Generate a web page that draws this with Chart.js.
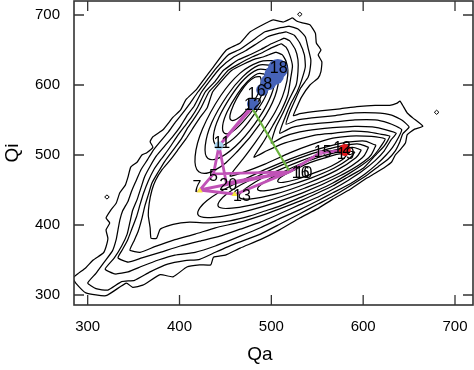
<!DOCTYPE html>
<html>
<head>
<meta charset="utf-8">
<script src="https://cdn.jsdelivr.net/npm/chart.js"></script>
<style>
  html, body { margin: 0; padding: 0; background: #fff; }
</style>
</head>
<body>
<canvas id="qaqi" width="474" height="370"></canvas>
<script>
// axis ticks and titles
var xTicks = [300, 400, 500, 600, 700];
var yTicks = [300, 400, 500, 600, 700];
var xTitle = 'Qa';
var yTitle = 'Qi';

// density contours, [Qa, Qi] pairs, outermost first
var outer1 = [[523,696],[528,691],[533,689],[542,686],[548,674],[549,660],[554,650],[551,643],[555,633],[554,619],[551,610],[542,600],[533,583],[528,569],[524,556],
  [531,559],[553,563],[575,566],[593,569],[613,571],[629,571],[637,574],[640,577],[643,571],[648,560],[654,553],[665,541],
  [656,537],[648,529],[646,517],[640,507],[635,500],[631,490],[624,483],[613,474],[604,467],[586,451],[567,437],[550,423],[531,410],[509,393],[488,379],[466,367],[450,357],[437,354],[434,343],[422,343],[408,340],[393,326],[379,329],[360,314],[349,311],[342,317],[320,299],[298,303],[287,317],[284,324],
  [289,330],[298,339],[306,350],[317,360],[320,369],[322,381],[320,393],[324,403],[320,410],[325,421],[331,431],[335,446],[341,457],[344,469],[347,483],[354,490],[359,500],[364,503],[371,511],[368,519],[371,526],[382,536],[393,554],[401,564],[407,579],[418,593],[426,607],[437,626],[451,650],[466,660],[477,676],[495,689],[502,693],[513,690]];
var outer2 = [[519,684],[529,680],[537,669],[540,653],[543,636],[542,621],[540,611],[532,596],[526,579],[520,561],[516,544],
  [528,550],[544,553],[567,556],[591,560],[613,560],[631,557],[642,550],[650,540],
  [643,530],[640,519],[635,506],[627,494],[616,483],[604,471],[586,456],[567,441],[551,430],[531,416],[509,401],[488,387],[460,373],[439,361],[422,351],[406,349],[387,344],[368,333],[351,321],[337,319],[322,307],[309,309],[300,317],
  [309,331],[318,347],[327,363],[331,379],[333,393],[335,407],[338,420],[344,434],[348,449],[353,464],[358,479],[365,493],[371,506],[379,519],[388,533],[395,546],[403,559],[411,573],[420,590],[430,607],[440,624],[453,643],[466,651],[479,663],[493,676],[507,681]];
var outer3 = [[516,676],[525,671],[531,660],[536,643],[537,626],[533,607],[528,590],[521,573],[515,554],[509,531],
  [522,539],[542,544],[567,547],[591,550],[613,550],[627,546],[636,541],[642,536],
  [638,524],[632,511],[625,500],[615,487],[602,473],[586,459],[567,446],[551,435],[531,422],[509,409],[488,396],[466,384],[439,370],[417,361],[395,357],[377,350],[359,341],[344,333],[330,330],[319,337],
  [329,353],[337,370],[343,387],[346,404],[349,421],[354,437],[358,453],[362,469],[368,484],[375,499],[384,513],[393,527],[401,541],[408,556],[416,570],[424,590],[433,606],[444,624],[459,640],[472,649],[484,659],[496,669],[509,674]];
var outer4 = [[514,667],[520,663],[526,651],[529,636],[529,619],[527,600],[520,581],[513,561],[505,540],[500,517],
  [513,526],[531,533],[551,537],[567,539],[591,541],[610,540],[625,536],[636,531],
  [630,521],[623,506],[613,492],[599,477],[584,464],[567,451],[551,440],[531,429],[509,416],[488,404],[466,394],[444,384],[422,377],[401,370],[379,361],[359,353],[344,347],[333,353],
  [337,363],[343,377],[348,394],[353,411],[357,429],[361,446],[366,463],[372,479],[380,494],[389,510],[397,526],[405,540],[413,554],[420,569],[428,590],[438,604],[448,621],[464,636],[478,644],[489,651],[500,659],[509,664]];
var outer5 = [[511,659],[516,654],[520,643],[523,627],[521,609],[518,586],[511,564],[502,543],[492,520],[481,497],
  [495,506],[512,516],[531,523],[551,529],[567,531],[588,534],[605,533],[618,530],[629,527],
  [623,513],[613,499],[600,481],[584,469],[567,456],[551,446],[531,434],[509,423],[488,413],[466,404],[439,396],[417,387],[395,379],[373,369],[357,361],[346,364],
  [350,376],[355,391],[359,409],[362,426],[366,443],[370,460],[377,476],[384,491],[393,507],[402,523],[409,539],[417,554],[424,569],[432,590],[442,604],[453,621],[466,631],[479,640],[490,646],[500,653],[507,657]];
var outer6 = [[505,647],[512,643],[516,634],[518,621],[517,606],[512,583],[504,561],[494,540],[482,517],[469,494],[455,470],
  [471,476],[493,487],[520,503],[542,514],[567,524],[586,527],[602,527],[614,526],[624,523],
  [618,510],[610,497],[598,485],[584,473],[567,460],[551,450],[531,439],[509,427],[493,420],[477,413],[455,406],[433,403],[411,404],[393,401],[379,394],[375,381],[369,381],
  [368,396],[366,414],[367,431],[370,450],[374,464],[381,479],[390,493],[398,507],[407,523],[415,539],[422,553],[430,567],[436,590],[446,606],[457,621],[470,630],[482,637],[491,640],[499,644]];

// upper peak
var upper7 = [[502,635],[508,616],[504,584],[489,547],[463,505],[438,478],[421,476],[417,498],[425,537],[445,585],[466,617],[487,633]];
var upper8 = [[499,628],[504,613],[500,586],[487,554],[466,519],[445,497],[431,495],[428,513],[435,546],[452,585],[469,612],[486,628]];
var upper9 = [[495,622],[498,610],[495,588],[484,563],[467,534],[451,516],[440,514],[437,528],[443,554],[457,586],[471,609],[485,622]];
var upper10 = [[492,616],[495,607],[491,590],[483,570],[469,547],[457,533],[449,531],[447,542],[452,562],[463,587],[474,605],[485,616]];
var upper11 = [[488,612],[489,605],[487,592],[481,577],[471,561],[462,551],[456,550],[455,557],[459,572],[466,589],[474,603],[482,611]];

// lower peak
var lower7 = [[614,514],[606,496],[576,471],[534,446],[479,422],[437,411],[420,415],[430,435],[467,463],[520,494],[564,513],[599,520]];
var lower8 = [[606,511],[599,496],[574,474],[537,453],[492,433],[457,424],[442,427],[451,444],[481,467],[525,493],[563,509],[593,516]];
var lower9 = [[598,507],[592,496],[571,478],[540,460],[504,444],[476,437],[465,440],[472,452],[496,471],[531,491],[563,505],[588,511]];
var lower10 = [[591,504],[585,495],[568,481],[543,467],[515,455],[494,449],[485,451],[491,460],[510,474],[537,490],[562,501],[582,506]];
var lower11 = [[582,500],[578,494],[565,484],[546,474],[527,465],[513,461],[507,462],[511,469],[524,478],[542,489],[561,497],[576,502]];

// tiny isolated contours
var island1 = [[528.5,701],[531,704],[533.5,701],[531,698]];
var island2 = [[677.5,561],[680,564],[682.5,561],[680,558]];
var island3 = [[318.5,440],[321,443],[323.5,440],[321,437]];

// trajectory (null = break in the line)
var pathQa = [482, 443, 451, 520, 437, 443, 477, null, 422, 461, 520, 422, 437, null, 520, 553, 580];
var pathQi = [572, 513, 460, 476, 473, 513, 567, null, 450, 444, 476, 450, 473, null, 476, 503, 507];
var greenQa = [479, 520];
var greenQi = [567, 476];

// marked states
var blueQa = [507, 503, 497, 490, 480];
var blueQi = [623, 614, 604, 593, 573];
var redQa = [580];
var redQi = [507];
var cyanQa = [443];
var cyanQi = [513];
var yellowQa = [422, 460];
var yellowQi = [449, 444];
var pinkQa = [553];
var pinkQi = [503];

// state numbers
var labelText = ['18', '8', '6', '1', '12', '11', '5', '20', '7', '13', '16', '10', '15', '12', '19'];
var labelQa = [508, 496, 489, 479, 480, 446, 437, 453, 419, 468, 532, 535, 556, 577, 581];
var labelQi = [623, 600, 591, 586, 570, 517, 469, 457, 453, 440, 474, 473, 504, 509, 500];

var FONT = '"Liberation Sans", Arial, sans-serif';

function ring(pts) {
    var out = pts.map(function (p) { return { x: p[0], y: p[1] }; });
    out.push({ x: pts[0][0], y: pts[0][1] });
    return out;
}

function pairs(xs, ys) {
    return xs.map(function (v, i) { return { x: v, y: ys[i] }; });
}

var datasets = [];

[outer1, outer2, outer3, outer4, outer5, outer6].forEach(function (c) {
    datasets.push({ data: ring(c), showLine: true, borderColor: '#000', borderWidth: 1.25,
        pointRadius: 0, tension: 0.15, order: 10 });
});
[upper7, upper8, upper9, upper10, upper11, lower7, lower8, lower9, lower10, lower11].forEach(function (c) {
    datasets.push({ data: ring(c), showLine: true, borderColor: '#000', borderWidth: 1.25,
        pointRadius: 0, tension: 0.4, order: 10 });
});
[island1, island2, island3].forEach(function (c) {
    datasets.push({ data: ring(c), showLine: true, borderColor: '#000', borderWidth: 1,
        pointRadius: 0, tension: 0, order: 10 });
});

datasets.push({ data: pairs(greenQa, greenQi), showLine: true, borderColor: '#6cb33f',
    borderWidth: 2.2, pointRadius: 0, order: 6 });
datasets.push({ data: pairs(pathQa, pathQi), showLine: true, spanGaps: false, borderColor: '#c052b6',
    borderWidth: 2.8, pointRadius: 0, order: 5 });

datasets.push({ data: pairs(blueQa, blueQi), pointRadius: [10, 10, 8, 6, 6], backgroundColor: '#4663b8',
    borderWidth: 0, order: 3 });
datasets.push({ data: pairs(redQa, redQi), pointRadius: 6, backgroundColor: '#e4191d', borderWidth: 0, order: 3 });
datasets.push({ data: pairs(cyanQa, cyanQi), pointRadius: 4.5, backgroundColor: '#a6d3f0', borderWidth: 0, order: 3 });
datasets.push({ data: pairs(yellowQa, yellowQi), pointRadius: 3.5, pointStyle: 'triangle',
    backgroundColor: '#f5e63c', borderWidth: 0, order: 3 });
datasets.push({ data: pairs(pinkQa, pinkQi), pointRadius: 3.5, pointStyle: 'rect',
    backgroundColor: '#d46fc8', borderWidth: 0, order: 3 });

// numbers on top of the states
var stateLabels = {
    id: 'stateLabels',
    afterDatasetsDraw: function (chart) {
        var ctx = chart.ctx, x = chart.scales.x, y = chart.scales.y;
        ctx.save();
        ctx.fillStyle = '#000';
        ctx.font = '16px ' + FONT;
        ctx.textAlign = 'center';
        ctx.textBaseline = 'middle';
        labelText.forEach(function (t, i) {
            ctx.fillText(t, x.getPixelForValue(labelQa[i]), y.getPixelForValue(labelQi[i]));
        });
        ctx.restore();
    }
};

// box with inward ticks on all four sides, plus axis titles
var boxAxes = {
    id: 'boxAxes',
    afterDraw: function (chart) {
        var ctx = chart.ctx, a = chart.chartArea, x = chart.scales.x, y = chart.scales.y;
        ctx.save();
        ctx.strokeStyle = '#333';
        ctx.lineWidth = 1.6;
        ctx.strokeRect(a.left, a.top, a.right - a.left, a.bottom - a.top);
        ctx.lineWidth = 1.3;
        ctx.beginPath();
        x.ticks.forEach(function (t) {
            var px = x.getPixelForValue(t.value);
            ctx.moveTo(px, a.bottom); ctx.lineTo(px, a.bottom - 10);
            ctx.moveTo(px, a.top); ctx.lineTo(px, a.top + 10);
        });
        y.ticks.forEach(function (t) {
            var py = y.getPixelForValue(t.value);
            ctx.moveTo(a.left, py); ctx.lineTo(a.left + 10, py);
            ctx.moveTo(a.right, py); ctx.lineTo(a.right - 10, py);
        });
        ctx.stroke();

        ctx.fillStyle = '#000';
        ctx.font = '19px ' + FONT;
        ctx.textAlign = 'center';
        ctx.textBaseline = 'middle';
        ctx.fillText(xTitle, 260, 355);
        ctx.translate(13, (a.top + a.bottom) / 2);
        ctx.rotate(-Math.PI / 2);
        ctx.fillText(yTitle, 0, 0);
        ctx.restore();
    }
};

new Chart(document.getElementById('qaqi'), {
    type: 'scatter',
    data: { datasets: datasets },
    options: {
        responsive: false,
        animation: false,
        devicePixelRatio: 1,
        layout: { autoPadding: false, padding: { top: 1, right: 1, left: 0, bottom: 0 } },
        plugins: { legend: { display: false }, tooltip: { enabled: false } },
        scales: {
            x: {
                type: 'linear', min: 285.1, max: 719.6,
                grid: { display: false, drawTicks: false },
                border: { display: false },
                ticks: { padding: 13, color: '#000', font: { family: FONT, size: 15 } },
                afterBuildTicks: function (s) { s.ticks = xTicks.map(function (v) { return { value: v }; }); },
                afterFit: function (s) {
                    s.height = 65;
                    s.paddingLeft = 0; s.paddingRight = 0;
                }
            },
            y: {
                type: 'linear', min: 285.7, max: 720,
                grid: { display: false, drawTicks: false },
                border: { display: false },
                ticks: { padding: 14, color: '#000', font: { family: FONT, size: 15 } },
                afterBuildTicks: function (s) { s.ticks = yTicks.map(function (v) { return { value: v }; }); },
                afterFit: function (s) {
                    s.width = 74;
                    s.paddingTop = 0; s.paddingBottom = 0;
                }
            }
        }
    },
    plugins: [stateLabels, boxAxes]
});
</script>
</body>
</html>
